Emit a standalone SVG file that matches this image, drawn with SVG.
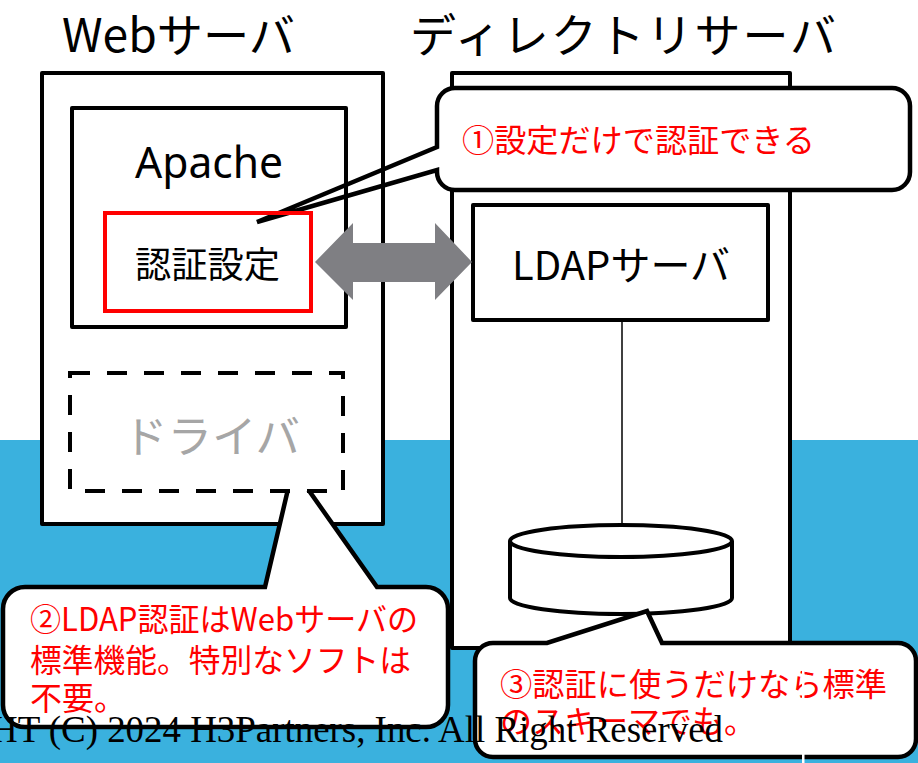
<svg xmlns="http://www.w3.org/2000/svg" width="918" height="763" viewBox="0 0 918 763">
  <style>
    .box { fill: none; stroke: #000; stroke-width: 4; stroke-linejoin: round; }
    .boxw { fill: #fff; stroke: #000; stroke-width: 4; stroke-linejoin: round; }
    .callout { fill: #fff; stroke: #000; stroke-width: 4.5; stroke-linejoin: miter; }
    .jp { font-family: "Noto Sans CJK JP", "Noto Sans", sans-serif; }
    .lbl { fill: #000; }
    .red { fill: #ff0000; font-size: 32px; }
    .title { font-size: 46px; fill: #000; }
  </style>

  <g id="background">
    <rect x="0" y="0" width="918" height="763" fill="#fff"/>
    <rect x="0" y="440" width="918" height="323" fill="#3ab1de"/>
    <rect x="42" y="73" width="341" height="451" fill="#fff"/>
  </g>

  <g id="titles" class="jp">
    <text class="title" x="62" y="52" textLength="233" lengthAdjust="spacingAndGlyphs">Webサーバ</text>
    <text class="title" x="410" y="52" textLength="426" lengthAdjust="spacing">ディレクトリサーバ</text>
  </g>

  <g id="directory-server">
    <rect class="boxw" x="452" y="73" width="338" height="575"/>
  </g>

  <g id="ldap-server">
    <rect class="boxw" x="473" y="205" width="295" height="115"/>
    <text class="jp lbl" x="512" y="280" font-size="40" textLength="218" lengthAdjust="spacingAndGlyphs">LDAPサーバ</text>
  </g>

  <g id="datastore">
    <path class="boxw" d="M510,541 V598 A111,16 0 0 0 732,598 V541"/>
    <ellipse class="boxw" cx="621" cy="541" rx="111" ry="16"/>
  </g>

  <g id="callout1">
    <path class="callout" d="M455,88 H892 A18,18 0 0 1 910,106 V172 A18,18 0 0 1 892,190 H455 A18,18 0 0 1 437,172 V170 L257,222 L437,147 V106 A18,18 0 0 1 455,88 Z"/>
    <text class="jp red" x="462" y="152" textLength="353" lengthAdjust="spacingAndGlyphs">①設定だけで認証できる</text>
  </g>

  <g id="web-server">
    <rect class="box" x="42" y="73" width="341" height="451"/>
  </g>

  <g id="apache">
    <rect class="box" x="72" y="108" width="274" height="219"/>
    <text x="135" y="178" font-family="Noto Sans, sans-serif" font-size="43" fill="#000" textLength="148" lengthAdjust="spacingAndGlyphs">Apache</text>
  </g>

  <g id="auth-config">
    <rect x="105" y="213" width="206" height="98" fill="none" stroke="#ff0000" stroke-width="4"/>
    <text class="jp lbl" x="135" y="278" font-size="36" textLength="145" lengthAdjust="spacingAndGlyphs">認証設定</text>
  </g>

  <g id="connectors">
    <line x1="622" y1="320" x2="622" y2="525" stroke="#000" stroke-width="1.5"/>
    <polygon points="315,262 353,223 353,243 435,243 435,223 472,262 435,300 435,282 353,282 353,300" fill="#7f7f83"/>
  </g>

  <g id="callout2">
    <path class="callout" d="M25,587 H265 L293,468 L377,587 H426 A22,22 0 0 1 448,609 V705 A22,22 0 0 1 426,727 H25 A22,22 0 0 1 3,705 V609 A22,22 0 0 1 25,587 Z"/>
    <text class="jp red" x="30" y="631" textLength="388" lengthAdjust="spacingAndGlyphs">②LDAP認証はWebサーバの</text>
    <text class="jp red" x="30" y="672" textLength="381" lengthAdjust="spacingAndGlyphs">標準機能。特別なソフトは</text>
    <text class="jp red" x="30" y="710">不要。</text>
  </g>

  <g id="driver">
    <rect x="70" y="373" width="273" height="118" fill="#fff" stroke="#000" stroke-width="4" stroke-dasharray="20,17"/>
    <text class="jp" x="123" y="453" font-size="44" fill="#a6a6a6" textLength="177" lengthAdjust="spacingAndGlyphs">ドライバ</text>
  </g>

  <g id="callout3">
    <path class="callout" d="M493,643 H547 L647,611 L662,643 H898 A18,18 0 0 1 916,661 V739 A18,18 0 0 1 898,757 H493 A18,18 0 0 1 475,739 V661 A18,18 0 0 1 493,643 Z"/>
    <text class="jp red" x="500" y="696" textLength="387" lengthAdjust="spacingAndGlyphs">③認証に使うだけなら標準</text>
    <text class="jp red" x="500" y="733">のスキーマでも。</text>
    <rect x="802" y="655" width="2.5" height="108" fill="#fff"/>
  </g>

  <g id="copyright">
    <text x="-9" y="742" font-family="Liberation Serif, serif" font-size="37" fill="#000" textLength="732" lengthAdjust="spacingAndGlyphs">HT (C) 2024 H3Partners, Inc. All Right Reserved</text>
  </g>
</svg>
